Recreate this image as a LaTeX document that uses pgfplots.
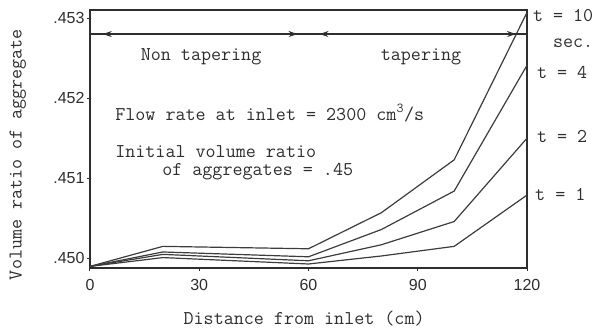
\documentclass[border=0pt]{standalone}
\usepackage{fontspec}
\newfontfamily\ticksfont{Liberation Sans}
\usepackage{pgfplots}
\pgfplotsset{compat=1.18}
\usetikzlibrary{arrows.meta}
\definecolor{ink}{HTML}{2E2E2E}
\definecolor{linec}{HTML}{3C3C3C}
\newcommand{\tw}{\ttfamily\fontsize{19.5}{19.5}\selectfont}
\tikzset{dimarrow/.style={ink, line width=1.1pt, {Stealth[length=9pt,width=6pt]}-{Stealth[length=9pt,width=6pt]}}}
\begin{document}
\begin{tikzpicture}
\begin{axis}[
  scale only axis, width=437pt, height=258pt,
  xmin=0, xmax=120, ymin=0.44988, ymax=0.45310,
  xtick={0,30,60,90,120}, xticklabels={0,30,60,90,120},
  ytick={0.450,0.451,0.452,0.453}, yticklabels={.450,.451,.452,.453},
  tick label style={font=\ticksfont\fontsize{16}{16}\selectfont, text=ink},
  xticklabel style={yshift=-5pt},
  yticklabel style={xshift=1pt},
  tick pos=left, tick align=outside, major tick length=3pt,
  tick style={ink, line width=1pt},
  axis line style={ink, line width=1.6pt},
  clip=false,
  xlabel={Distance from inlet (cm)},
  ylabel={Volume ratio of aggregate},
  label style={font=\tw, text=ink},
  xlabel style={at={(axis description cs:0.49,-0.194)}, anchor=center},
  ylabel style={at={(axis description cs:-0.165,0.44)}, anchor=center},
]
% t = 10
\addplot[linec, line width=1.2pt, mark=none] coordinates {(0,0.44990) (20,0.45015) (60,0.45012) (80,0.45057) (100,0.45123) (120,0.45307)};
% t = 4
\addplot[linec, line width=1.2pt, mark=none] coordinates {(0,0.44990) (20,0.45008) (60,0.45002) (80,0.45036) (100,0.45084) (120,0.45241)};
% t = 2
\addplot[linec, line width=1.2pt, mark=none] coordinates {(0,0.44990) (20,0.45005) (60,0.44997) (80,0.45017) (100,0.45046) (120,0.45150)};
% t = 1
\addplot[linec, line width=1.2pt, mark=none] coordinates {(0,0.44990) (20,0.45001) (60,0.44993) (80,0.45003) (100,0.45015) (120,0.45079)};

\draw[ink, line width=1.1pt] (axis cs:0,0.45280) -- (axis cs:120,0.45280);
\draw[dimarrow] (axis cs:3.5,0.45280) -- (axis cs:57,0.45280);
\draw[dimarrow] (axis cs:63,0.45280) -- (axis cs:117,0.45280);

\begin{scope}[every node/.style={font=\tw, text=ink, inner sep=0pt}]
\node[anchor=center] at (axis cs:30.5,0.45251) {Non tapering};
\node[anchor=center] at (axis cs:90.9,0.45251) {tapering};
\node[anchor=west] at (axis cs:6.9,0.451814) {Flow rate at inlet = 2300 cm\textsuperscript{3}/s};
\node[anchor=west] at (axis cs:6.9,0.451329) {Initial volume ratio};
\node[anchor=west] at (axis cs:19.8,0.451080) {of aggregates = .45};
\node[anchor=west] at (axis cs:121.6,0.453035) {t = 10};
\node[anchor=west] at (axis cs:127.1,0.452686) {sec.};
\node[anchor=west] at (axis cs:122.7,0.452325) {t = 4};
\node[anchor=west] at (axis cs:122.7,0.451516) {t = 2};
\node[anchor=west] at (axis cs:122.2,0.450793) {t = 1};
\end{scope}
\end{axis}
\pgfresetboundingbox
\path[use as bounding box] (-90pt,-67pt) rectangle (507pt,268pt);
\end{tikzpicture}
\end{document}
